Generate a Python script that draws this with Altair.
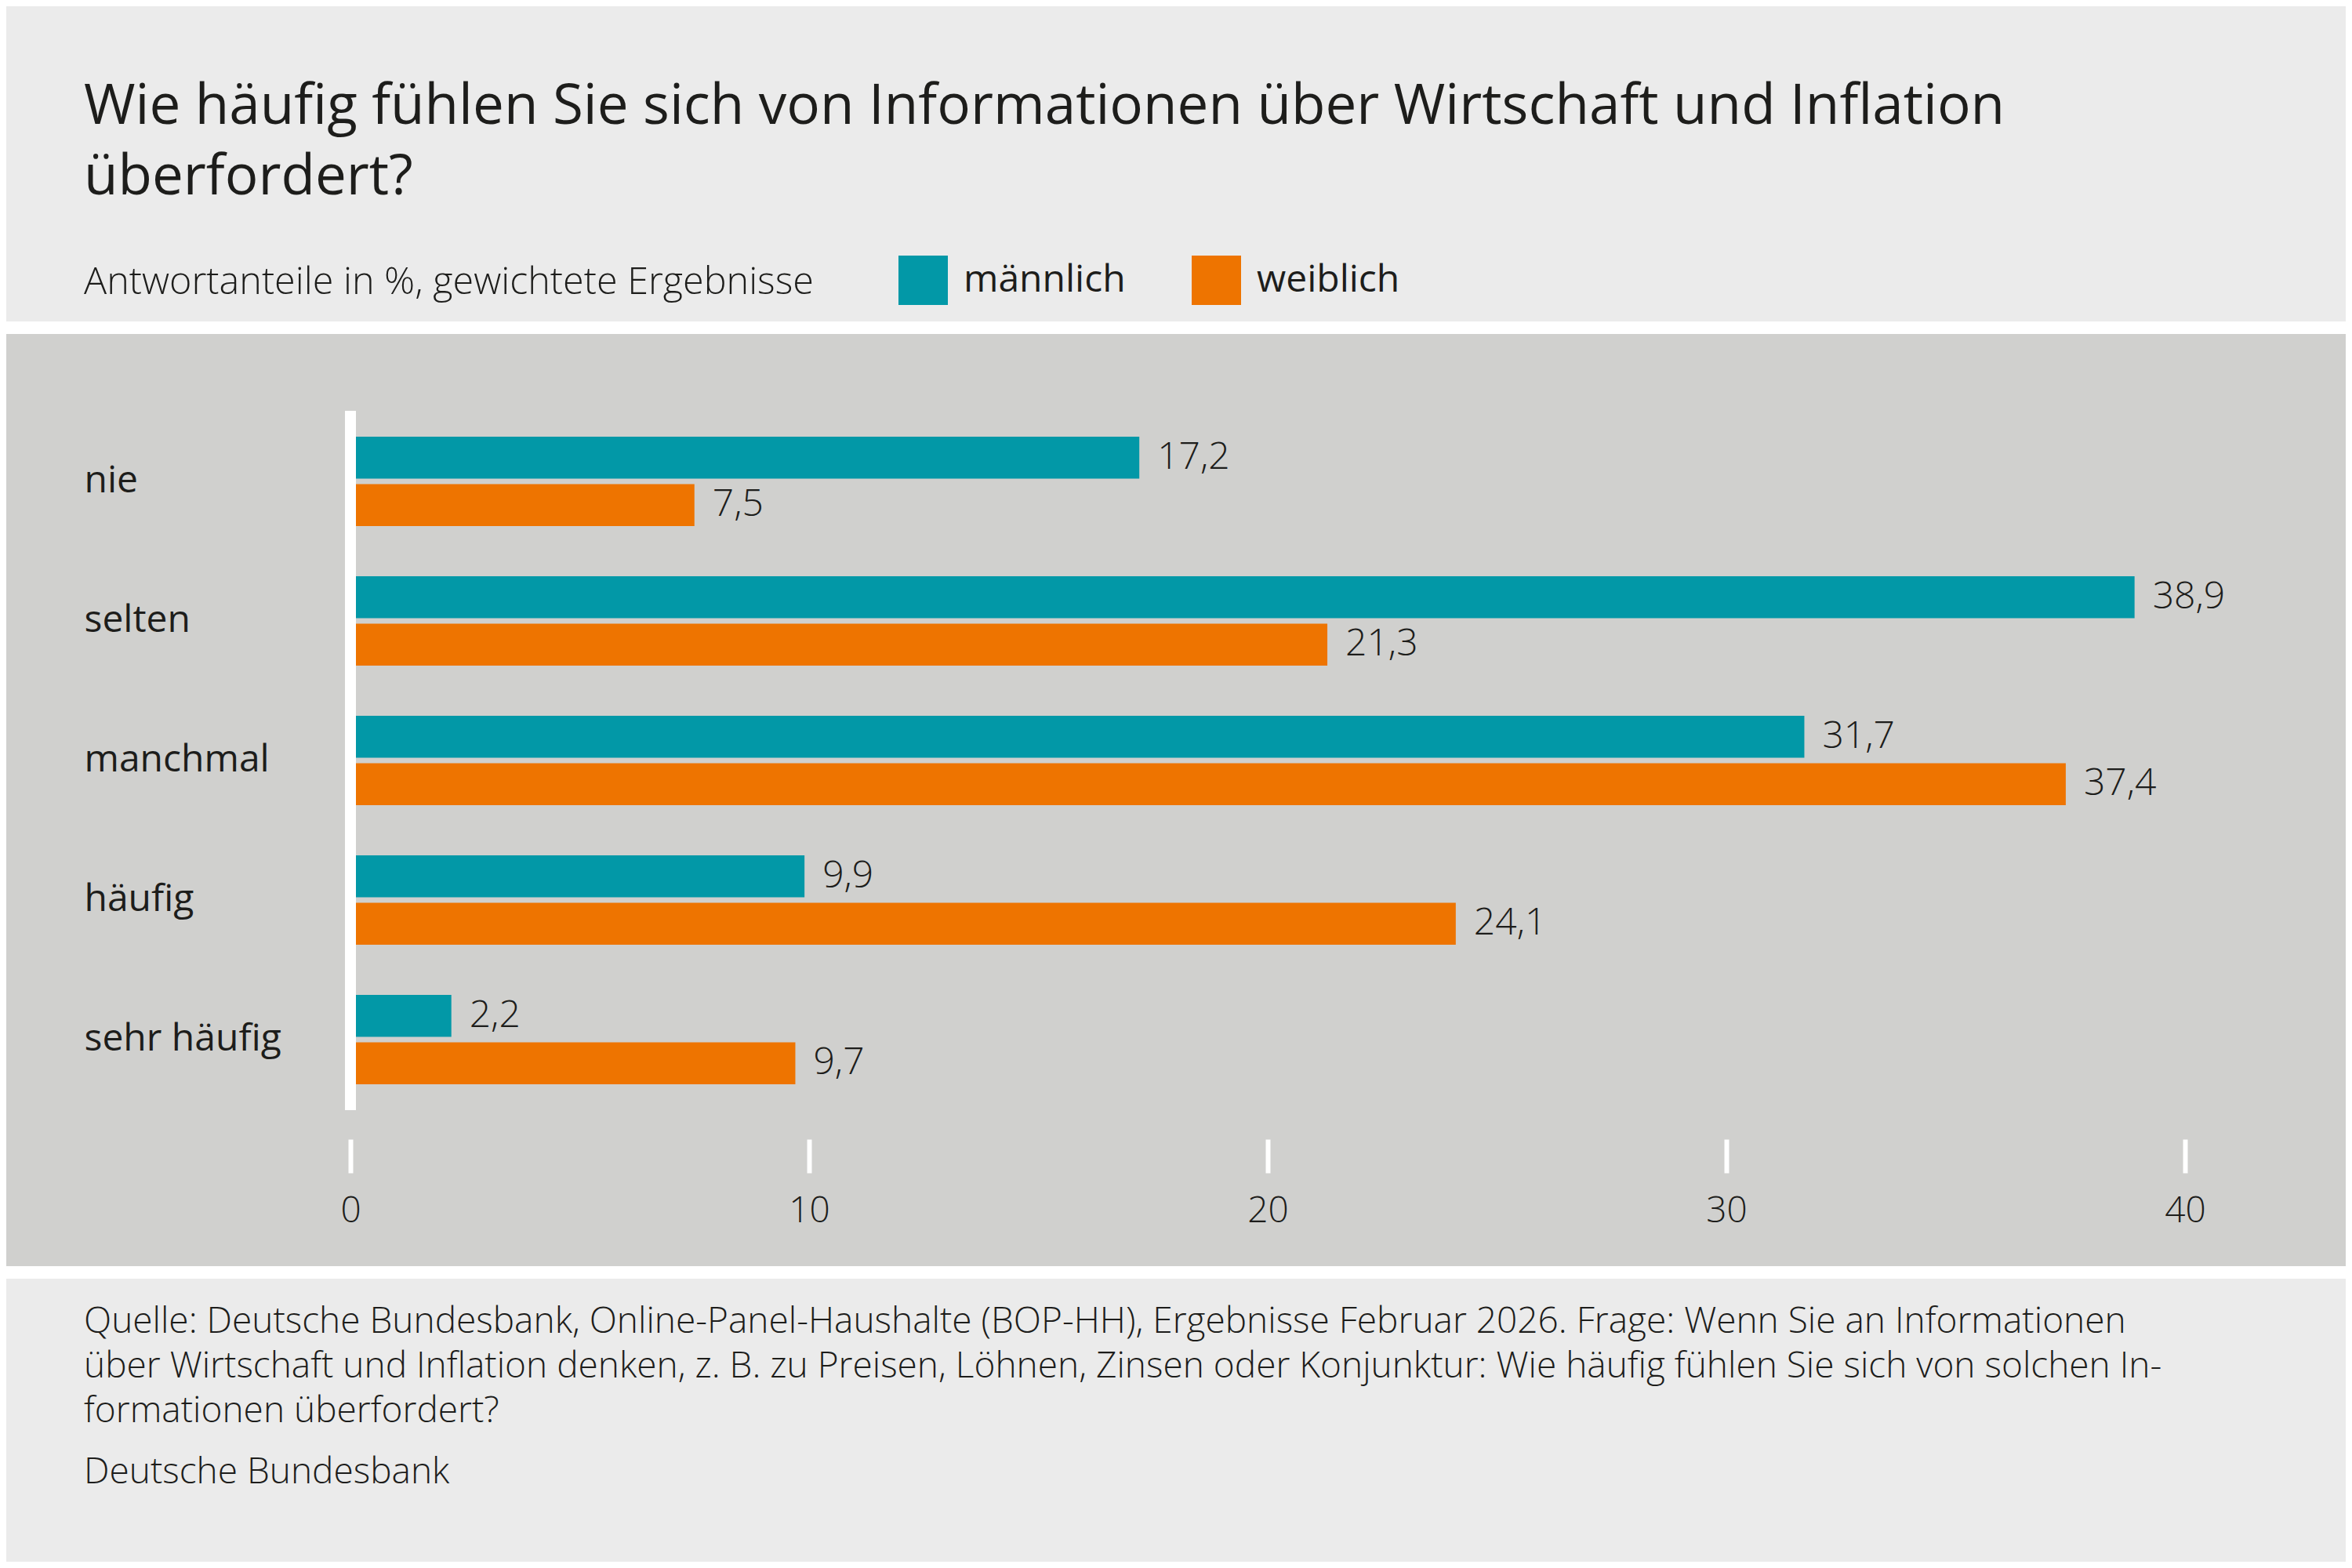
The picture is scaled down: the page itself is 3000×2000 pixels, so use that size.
import altair as alt
import pandas as pd

# Daten (Antwortanteile in %)
categories = ["nie", "selten", "manchmal", "häufig", "sehr häufig"]
male = [17.2, 38.9, 31.7, 9.9, 2.2]
female = [7.5, 21.3, 37.4, 24.1, 9.7]
groups = ["männlich", "weiblich"]
x_ticks = [0, 10, 20, 30, 40]

title_lines = [
    "Wie häufig fühlen Sie sich von Informationen über Wirtschaft und Inflation",
    "überfordert?",
]
subtitle = "Antwortanteile in %, gewichtete Ergebnisse"
footer_lines = [
    "Quelle: Deutsche Bundesbank, Online-Panel-Haushalte (BOP-HH), Ergebnisse Februar 2026. Frage: Wenn Sie an Informationen",
    "über Wirtschaft und Inflation denken, z. B. zu Preisen, Löhnen, Zinsen oder Konjunktur: Wie häufig fühlen Sie sich von solchen In-",
    "formationen überfordert?",
]
footer_org = "Deutsche Bundesbank"

# Farben / Stil
TEAL = "#0298A7"
ORANGE = "#EE7400"
BG_TOP = "#EBEBEB"
BG_PANEL = "#D0D0CE"
TEXT = "#1D1D1B"
FONT = "Open Sans"

W, H = 2340, 892
PAD = {"left": 439, "top": 516, "right": 205, "bottom": 576}

rows = []
for c, m, f in zip(categories, male, female):
    rows.append({"kat": c, "gruppe": groups[0], "wert": m})
    rows.append({"kat": c, "gruppe": groups[1], "wert": f})
df = pd.DataFrame(rows)
df["label"] = df["wert"].map(lambda v: f"{v:.1f}".replace(".", ","))

one = pd.DataFrame({"k": [0]})

# Hintergrundflächen
white_band = alt.Chart(one).mark_rect(color="white").encode(
    x=alt.value(-PAD["left"]), x2=alt.value(W + PAD["right"]),
    y=alt.value(-114), y2=alt.value(1107),
)
panel = alt.Chart(one).mark_rect(color=BG_PANEL).encode(
    x=alt.value(-PAD["left"]), x2=alt.value(W + PAD["right"]),
    y=alt.value(-98), y2=alt.value(1091),
)

x_enc = alt.X(
    "wert:Q",
    scale=alt.Scale(domain=[0, 40], nice=False, zero=True),
    axis=alt.Axis(
        values=x_ticks, format="d", title=None, grid=False, domain=False,
        offset=37, tickSize=43, tickWidth=6, tickColor="white",
        labelFont=FONT, labelFontSize=46, labelFontWeight=300,
        labelColor=TEXT, labelPadding=26, labelFlush=False, zindex=1,
    ),
)
y_enc = alt.Y(
    "kat:N", sort=categories,
    scale=alt.Scale(paddingInner=0.36, paddingOuter=0.186),
    axis=alt.Axis(
        title=None, domain=False, ticks=False, tickSize=0, grid=False,
        labelAlign="left", labelPadding=340, labelFont=FONT,
        labelFontSize=48, labelFontWeight=500, labelColor=TEXT,
        labelLimit=600, zindex=1,
    ),
)
yoff = alt.YOffset("gruppe:N", sort=groups,
                   scale=alt.Scale(paddingInner=0.117, paddingOuter=0))

base = alt.Chart(df)

bars = base.mark_bar().encode(
    x=x_enc, y=y_enc, yOffset=yoff,
    color=alt.Color(
        "gruppe:N",
        scale=alt.Scale(domain=groups, range=[TEAL, ORANGE]),
        legend=alt.Legend(
            orient="none", legendX=699, legendY=-198, direction="horizontal",
            title=None, symbolType="square", symbolSize=3969,
            symbolStrokeWidth=0, symbolOpacity=1,
            labelFont=FONT, labelFontSize=48, labelFontWeight=500,
            labelColor=TEXT, labelOffset=20, columnPadding=84,
            labelLimit=600, padding=0, zindex=1,
        ),
    ),
)

values = base.mark_text(
    align="left", baseline="middle", dx=23, font=FONT, fontSize=48,
    fontWeight=300, color=TEXT,
).encode(x="wert:Q", y=alt.Y("kat:N", sort=categories), yOffset=yoff, text="label:N")

zero_line = alt.Chart(one).mark_rule(color="white", strokeWidth=14).encode(
    x=alt.datum(0)
)

title = alt.Chart(one).mark_text(
    text=title_lines, align="left", baseline="alphabetic", font=FONT,
    fontSize=71, fontWeight=500, color=TEXT, lineHeight=90,
).encode(x=alt.value(-340), y=alt.value(-366))

sub = alt.Chart(one).mark_text(
    text=subtitle, align="left", baseline="alphabetic", font=FONT,
    fontSize=48.5, fontWeight=300, color=TEXT,
).encode(x=alt.value(-340), y=alt.value(-149))

foot = alt.Chart(one).mark_text(
    text=footer_lines, align="left", baseline="alphabetic", font=FONT,
    fontSize=46, fontWeight=300, color=TEXT, lineHeight=57,
).encode(x=alt.value(-340), y=alt.value(1176))

org = alt.Chart(one).mark_text(
    text=footer_org, align="left", baseline="alphabetic", font=FONT,
    fontSize=46, fontWeight=300, color=TEXT,
).encode(x=alt.value(-340), y=alt.value(1368))

chart = alt.layer(
    white_band, panel, bars, values, zero_line, title, sub, foot, org
).properties(
    width=W, height=H, padding=PAD,
    autosize=alt.AutoSizeParams(type="none"),
    background=BG_TOP,
).configure_view(stroke=None)

chart.save("out.html", embed_options={"renderer": "svg", "actions": False})
